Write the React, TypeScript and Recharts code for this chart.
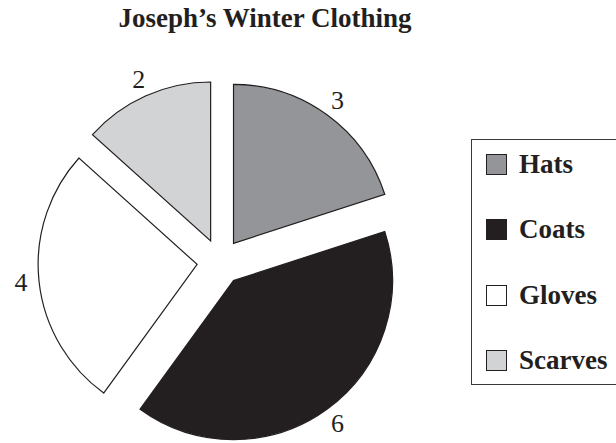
import React from 'react';
import { PieChart, Pie, Cell, Legend } from 'recharts';

const title = "Joseph\u2019s Winter Clothing";
const categories = ['Hats', 'Coats', 'Gloves', 'Scarves'];
const counts = [3, 6, 4, 2];
const colors = ['#939598', '#231f20', '#ffffff', '#d1d3d4'];

const W = 616;
const H = 443;
const CENTER_X = 220;
const CENTER_Y = 262;
const RADIUS = 159;
const EXPLODE = 23;
const LABEL_GAP = 18;
const RAD = Math.PI / 180;
const INK = '#231f20';
const SERIF = '"Liberation Serif", "Times New Roman", serif';

const data = categories.map((name, i) => ({ name, value: counts[i], fill: colors[i] }));
const total = counts.reduce((a, b) => a + b, 0);

let acc = 0;
const slices = data.map((d) => {
  const start = 90 - (acc / total) * 360;
  acc += d.value;
  const end = 90 - (acc / total) * 360;
  const mid = (start + end) / 2;
  return {
    ...d,
    start,
    end,
    cx: CENTER_X + EXPLODE * Math.cos(mid * RAD),
    cy: CENTER_Y - EXPLODE * Math.sin(mid * RAD),
  };
});

const renderLabel = (props: any) => {
  const { cx, cy, midAngle, outerRadius, value } = props;
  const r = outerRadius + LABEL_GAP;
  const x = cx + r * Math.cos(-midAngle * RAD);
  const y = cy + r * Math.sin(-midAngle * RAD);
  return (
    <text
      x={x}
      y={y}
      textAnchor="middle"
      dominantBaseline="central"
      fontFamily={SERIF}
      fontSize={26}
      fill={INK}
    >
      {value}
    </text>
  );
};

const renderLegend = () => (
  <div
    style={{
      position: 'relative',
      width: 150,
      height: 246,
      border: '1.5px solid #3a3a3a',
      borderRight: 'none',
      boxSizing: 'border-box',
      background: '#fff',
    }}
  >
    {data.map((d, i) => (
      <div
        key={d.name}
        style={{
          position: 'absolute',
          left: 14,
          top: 14 + i * 65.3,
          display: 'flex',
          alignItems: 'center',
          height: 21,
        }}
      >
        <div
          style={{
            width: 21,
            height: 21,
            boxSizing: 'border-box',
            background: d.fill,
            border: `1.3px solid ${INK}`,
          }}
        />
        <span
          style={{
            marginLeft: 12,
            fontFamily: SERIF,
            fontWeight: 'bold',
            fontSize: 27,
            lineHeight: '27px',
            color: INK,
            whiteSpace: 'nowrap',
          }}
        >
          {d.name}
        </span>
      </div>
    ))}
  </div>
);

export default function App() {
  return (
    <div
      style={{
        position: 'absolute',
        left: 0,
        top: 0,
        width: W,
        height: H,
        overflow: 'hidden',
        background: '#fff',
      }}
    >
      <div
        style={{
          position: 'absolute',
          left: 0,
          top: 5,
          width: 530,
          textAlign: 'center',
          fontFamily: SERIF,
          fontWeight: 'bold',
          fontSize: 27,
          lineHeight: '27px',
          color: INK,
          zIndex: 2,
        }}
      >
        {title}
      </div>
      <PieChart width={W} height={H} margin={{ top: 0, right: 0, bottom: 0, left: 0 }}>
        {slices.map((s) => (
          <Pie
            key={s.name}
            data={[s]}
            dataKey="value"
            nameKey="name"
            cx={s.cx}
            cy={s.cy}
            outerRadius={RADIUS}
            startAngle={s.start}
            endAngle={s.end}
            isAnimationActive={false}
            stroke={INK}
            strokeWidth={1.2}
            label={renderLabel}
            labelLine={false}
          >
            <Cell fill={s.fill} />
          </Pie>
        ))}
        <Legend
          layout="vertical"
          align="right"
          verticalAlign="middle"
          content={renderLegend}
          wrapperStyle={{ left: 471, top: 139, width: 150, height: 246, right: 'auto', bottom: 'auto' }}
        />
      </PieChart>
    </div>
  );
}
